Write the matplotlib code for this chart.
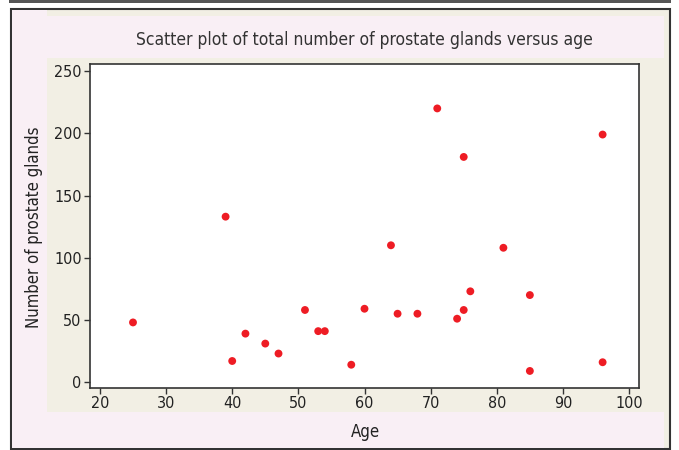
import matplotlib.pyplot as plt
from matplotlib.patches import Rectangle

age = [25, 39, 40, 42, 45, 47, 51, 53, 54, 58, 60, 64, 65, 68, 71, 74, 75, 75, 76, 81, 85, 85, 96, 96]
glands = [48, 133, 17, 39, 31, 23, 58, 41, 41, 14, 59, 110, 55, 55, 220, 51, 58, 181, 73, 108, 70, 9, 199, 16]
xticks = [20, 30, 40, 50, 60, 70, 80, 90, 100]
yticks = [0, 50, 100, 150, 200, 250]

plt.rcParams['font.family'] = ['DejaVu Sans']
plt.rcParams['font.stretch'] = 'condensed'

W, H = 679, 450
pink = '#f9eff5'
beige = '#f2efe4'

fig = plt.figure(figsize=(W / 100, H / 100), dpi=100)


def box(x0, y0, x1, y1, **kw):
    # pixel coords, top-left origin
    fig.patches.append(Rectangle((x0 / W, 1 - y1 / H), (x1 - x0) / W, (y1 - y0) / H,
                                 transform=fig.transFigure, figure=fig, zorder=-10, **kw))


box(9, 0, 671, 2.5, facecolor='#555555', edgecolor='none')
box(11, 9, 670, 449, facecolor=beige, edgecolor='#333333', linewidth=1.5)
box(12, 10, 47, 448, facecolor=pink, edgecolor='none')
box(12, 16, 664, 58, facecolor=pink, edgecolor='none')
box(12, 412, 664, 448, facecolor=pink, edgecolor='none')

ax = fig.add_axes([90 / W, 1 - 388 / H, 549 / W, 324 / H])
ax.set_zorder(5)
ax.set_facecolor('white')
ax.scatter(age, glands, s=32, color='#ee1c24', edgecolors='none', zorder=3)

ax.set_xlim(18.5, 101.5)
ax.set_ylim(-4.7, 255.7)
ax.set_xticks(xticks)
ax.set_yticks(yticks)
ax.tick_params(direction='out', length=4, width=1, colors='#333333', labelsize=11.5, pad=2)
ax.tick_params(labelcolor='#222222')
for sp in ax.spines.values():
    sp.set_color('#333333')
    sp.set_linewidth(1.2)

fig.text(364 / W, 1 - 40 / H, 'Scatter plot of total number of prostate glands versus age',
         ha='center', va='center', fontsize=12.5, color='#333333')
fig.text(34 / W, 1 - 227 / H, 'Number of prostate glands', rotation=90,
         ha='center', va='center', fontsize=12, color='#222222')
fig.text(365 / W, 1 - 432 / H, 'Age', ha='center', va='center', fontsize=12, color='#222222')

fig.savefig('out.png', dpi=100)
